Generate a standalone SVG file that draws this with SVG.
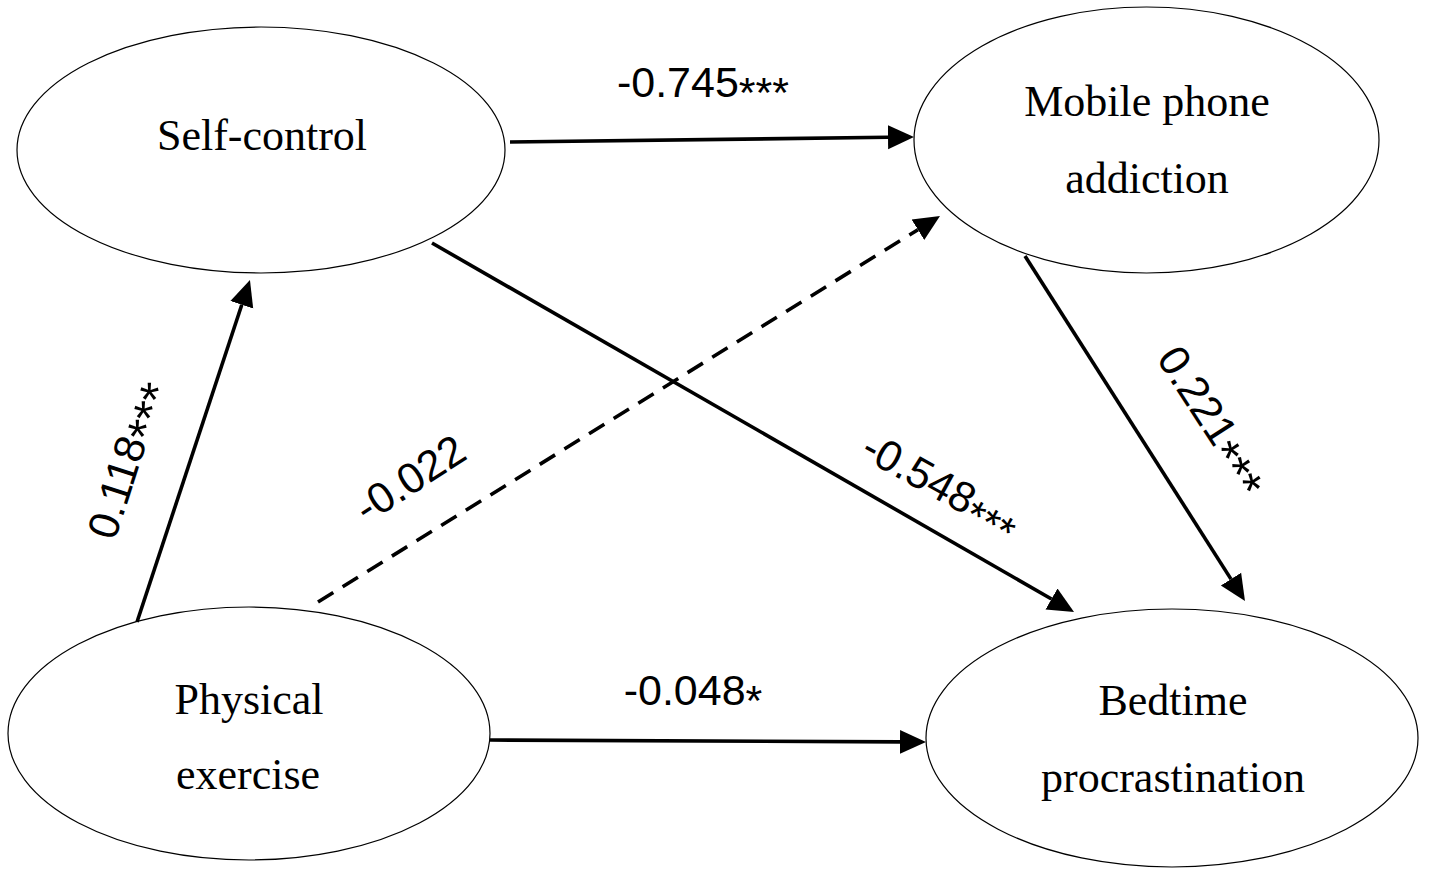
<svg xmlns="http://www.w3.org/2000/svg" width="1429" height="874" viewBox="0 0 1429 874">
<style>
.node ellipse{fill:#fff;stroke:#000;stroke-width:1.2}
.node text{font-family:"Liberation Sans","Arial",sans-serif;font-size:44px;fill:#000;text-anchor:middle}
.node text{font-family:"Liberation Serif","Times New Roman",serif}
.edge{stroke:#000;stroke-width:3.6;fill:none}
.dash{stroke-dasharray:18 11}
.lbl{font-family:"Liberation Sans",Arial,sans-serif;font-size:43px;fill:#000;text-anchor:middle}
.big{font-size:50px}
</style>
<defs>
<marker id="arr" markerUnits="userSpaceOnUse" markerWidth="28" markerHeight="26" viewBox="0 -13 28 26" refX="0" refY="0" orient="auto">
<path d="M0,-12 L26,0 L0,12 z" fill="#000"/>
</marker>
</defs>
<rect width="1429" height="874" fill="#fff"/>
<g id="n-selfcontrol" class="node">
<ellipse cx="261" cy="150" rx="244" ry="123"/>
<text x="262" y="150">Self-control</text>
</g>
<g id="n-mobile" class="node">
<ellipse cx="1146.5" cy="140" rx="232.5" ry="133"/>
<text x="1147" y="116">Mobile phone</text>
<text x="1147" y="193">addiction</text>
</g>
<g id="n-physical" class="node">
<ellipse cx="249" cy="733.5" rx="241" ry="126.5"/>
<text x="249" y="714">Physical</text>
<text x="248" y="789">exercise</text>
</g>
<g id="n-bedtime" class="node">
<ellipse cx="1172" cy="738" rx="246" ry="129"/>
<text x="1173" y="715">Bedtime</text>
<text x="1173" y="792">procrastination</text>
</g>
<g id="connectors">
<path class="edge" d="M510,142 L888,137.3" marker-end="url(#arr)"/>
<path class="edge dash" d="M318,602 L917.9,229.7" marker-end="url(#arr)"/>
<path class="edge" d="M432,243 L1051.5,599" marker-end="url(#arr)"/>
<path class="edge" d="M1025,256 L1231,579.1" marker-end="url(#arr)"/>
<path class="edge" d="M490,740 L900,741.9" marker-end="url(#arr)"/>
<path class="edge" d="M137,622 L241.8,304.7" marker-end="url(#arr)"/>
</g>
<g id="labels">
<text class="lbl" x="703" y="97">-0.745<tspan dy="10">***</tspan></text>
<text class="lbl" x="693" y="705">-0.048<tspan dy="10">*</tspan></text>
<text class="lbl" transform="translate(140,464) rotate(-72)">0.118<tspan class="big" dy="12">***</tspan></text>
<text class="lbl" transform="translate(418,491) rotate(-33)">-0.022</text>
<text class="lbl" transform="translate(934,498) rotate(29)">-0.548<tspan dy="10">***</tspan></text>
<text class="lbl" transform="translate(1201,428) rotate(57)">0.221<tspan class="big" dy="12">***</tspan></text>
</g>
</svg>
